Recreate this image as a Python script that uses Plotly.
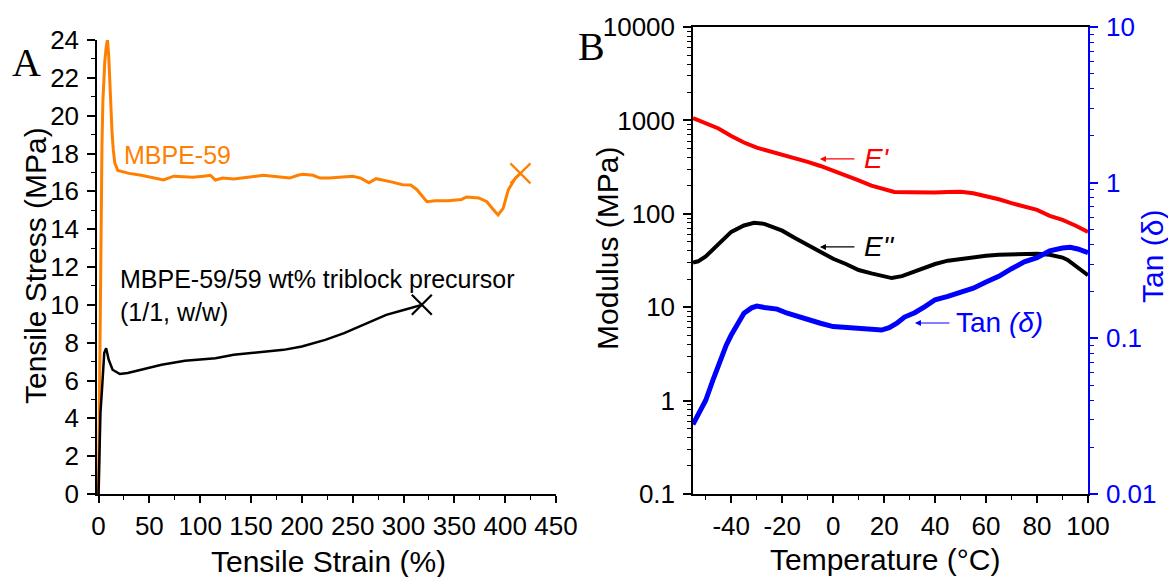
import plotly.graph_objects as go

# ---------------- Panel A data: tensile test ----------------
strain_mbpe = [0, 0.8, 1.6, 2.5, 3.4, 4.3, 5.3, 6.2, 7.5, 8.8, 10, 11, 12.2, 13.3, 14.5, 16, 19, 22,
               30, 42, 55, 64, 74, 85, 93, 103, 110, 115, 122, 133, 145, 155, 162, 172, 180, 188,
               196, 201, 211, 218, 227, 240, 250, 258, 266, 273, 280, 288, 299, 307, 313, 318,
               323, 331, 344, 357, 362, 374, 382, 388, 393, 398, 403, 410, 415]
stress_mbpe = [0, 5, 10.2, 15.5, 18.5, 20.8, 22, 22.9, 23.6, 24, 23.2, 21.7, 20.2, 19.1, 18.2, 17.5, 17.1, 17.05,
               16.95, 16.85, 16.7, 16.6, 16.8, 16.75, 16.75, 16.8, 16.85, 16.6, 16.7, 16.65, 16.75, 16.8, 16.85, 16.8, 16.75, 16.7,
               16.85, 16.9, 16.85, 16.7, 16.7, 16.75, 16.8, 16.7, 16.45, 16.67, 16.6, 16.5, 16.35, 16.33, 16.1, 15.8,
               15.45, 15.5, 15.5, 15.57, 15.7, 15.65, 15.45, 15.05, 14.75, 15.1, 16.07, 16.7, 16.95]

strain_blend = [0, 1.9, 3.4, 5.6, 7.5, 10, 13.8, 21, 28.7, 47, 62, 85, 100, 115, 133, 152, 167, 182,
                200, 223, 241.6, 264, 283, 301, 318]
stress_blend = [0, 4.3, 5.5, 7.45, 7.7, 7.1, 6.57, 6.34, 6.4, 6.65, 6.83, 7.04, 7.1, 7.18, 7.36, 7.45, 7.53, 7.62,
                7.8, 8.15, 8.5, 9.03, 9.47, 9.74, 10.0]

# ---------------- Panel B data: DMA ----------------
temp_e1 = [-55, -50, -45, -40, -35, -30, -25, -20, -15, -10, -5, 0, 5, 10, 15, 20, 24, 30, 35, 40,
           45, 50, 55, 60, 65, 70, 75, 80, 85, 90, 95, 100]
storage_mod = [1060, 930, 820, 680, 580, 510, 470, 435, 400, 360, 325, 290, 258, 228, 200, 185, 171, 170, 168, 169,
               171, 172, 166, 155, 143, 130, 120, 110, 95, 86, 75, 64]

temp_e2 = [-55, -53, -50, -45, -40, -35, -31, -27, -20, -15, -10, -5, 0, 5, 10, 15, 20, 23, 27, 30, 35, 40,
           45, 50, 55, 60, 65, 70, 75, 80, 85, 90, 92, 95, 97, 100]
loss_mod = [30, 31, 35, 48, 64, 75, 80, 78, 66, 55, 46, 39, 33, 29, 25, 23, 21.5, 20.5, 21.5, 23, 26, 29,
            31.5, 33, 34.5, 35.5, 36.5, 37, 37.2, 37.3, 36.5, 34, 32, 28, 25, 22]

temp_tan = [-55, -52, -50, -47, -45, -42, -40, -37, -35, -32, -30, -27, -22, -18, -14, -10, -5, 0, 5, 10, 15,
            19, 22, 25, 28, 32, 36, 40, 45, 50, 55, 60, 65, 70, 75, 80, 85, 90, 93, 96, 100]
tan_delta = [0.028, 0.034, 0.040, 0.055, 0.068, 0.09, 0.105, 0.13, 0.145, 0.157, 0.161, 0.158, 0.154, 0.145,
             0.138, 0.131, 0.125, 0.119, 0.117, 0.117, 0.115, 0.113, 0.117, 0.125, 0.137, 0.146, 0.16, 0.177,
             0.186, 0.197, 0.21, 0.23, 0.25, 0.28, 0.31, 0.33, 0.365, 0.38, 0.385, 0.375, 0.355]

temp_ticks = [-40, -20, 0, 20, 40, 60, 80, 100]
temp_ticktext = ["-40", "-20", "0", "20", "40", "60", "80", "100"]
mod_ticks = [0.1, 1, 10, 100, 1000, 10000]
mod_ticktext = ["0.1", "1", "10", "100", "1000", "10000"]
tan_ticks = [0.01, 0.1, 1, 10]
tan_ticktext = ["0.01", "0.1", "1", "10"]

ORANGE = "#FF7F00"
RED = "#FF0000"
BLUE = "#0000FF"
FONT = "Liberation Sans, Arial, sans-serif"
SERIF = "Liberation Serif, Times New Roman, serif"
TICKF = dict(family=FONT, size=26, color="black")
TITLE_SIZE = 30

fig = go.Figure()

fig.add_trace(go.Scatter(x=strain_mbpe, y=stress_mbpe, mode="lines",
                         line=dict(color=ORANGE, width=3), xaxis="x", yaxis="y", showlegend=False))
fig.add_trace(go.Scatter(x=strain_blend, y=stress_blend, mode="lines",
                         line=dict(color="black", width=2.5), xaxis="x", yaxis="y", showlegend=False))
fig.add_trace(go.Scatter(x=[strain_mbpe[-1]], y=[stress_mbpe[-1]], mode="markers",
                         marker=dict(symbol="x-thin", size=20, line=dict(color=ORANGE, width=2.2)),
                         xaxis="x", yaxis="y", showlegend=False))
fig.add_trace(go.Scatter(x=[strain_blend[-1]], y=[stress_blend[-1]], mode="markers",
                         marker=dict(symbol="x-thin", size=20, line=dict(color="black", width=2.2)),
                         xaxis="x", yaxis="y", showlegend=False))

fig.add_trace(go.Scatter(x=temp_e1, y=storage_mod, mode="lines", line=dict(color=RED, width=4),
                         xaxis="x2", yaxis="y2", showlegend=False))
fig.add_trace(go.Scatter(x=temp_e2, y=loss_mod, mode="lines", line=dict(color="black", width=4),
                         xaxis="x2", yaxis="y2", showlegend=False))
fig.add_trace(go.Scatter(x=temp_tan, y=tan_delta, mode="lines", line=dict(color=BLUE, width=5),
                         xaxis="x2", yaxis="y3", showlegend=False))

common = dict(showgrid=False, zeroline=False, showline=True, linecolor="black", linewidth=1.5,
              ticks="outside", ticklen=8, tickwidth=1.5, tickcolor="black", tickfont=TICKF,
              ticklabelstandoff=3, automargin=False)
xcommon = dict(common)
xcommon.update(ticklen=7, ticklabelstandoff=1)

fig.update_layout(
    width=1168, height=577,
    margin=dict(l=0, r=0, t=0, b=0),
    paper_bgcolor="white", plot_bgcolor="white",
    xaxis=dict(domain=[97 / 1168, 556 / 1168], range=[-1.5, 450], tick0=0, dtick=50,
               minor=dict(ticks="outside", ticklen=4, tickwidth=1.2, tickcolor="black", dtick=25, tick0=0),
               anchor="y", **xcommon),
    yaxis=dict(domain=[83 / 577, 537 / 577], range=[0, 24], tick0=0, dtick=2,
               minor=dict(ticks="outside", ticklen=4, tickwidth=1.2, tickcolor="black", dtick=1, tick0=0),
               anchor="x", **common),
    xaxis2=dict(domain=[693 / 1168, 1088 / 1168], range=[-55, 100], tickvals=temp_ticks, ticktext=temp_ticktext,
                minor=dict(ticks="outside", ticklen=4, tickwidth=1.2, tickcolor="black", dtick=10, tick0=-50),
                mirror=True, anchor="y2", **xcommon),
    yaxis2=dict(domain=[83 / 577, 550 / 577], type="log", range=[-1, 4], tickvals=mod_ticks,
                ticktext=mod_ticktext, anchor="x2",
                minor=dict(ticks="outside", ticklen=4, tickwidth=1.2, tickcolor="black", dtick="D1"),
                **common),
)

right_axis = dict(common)
right_axis.update(linecolor=BLUE, tickcolor=BLUE, tickfont=dict(family=FONT, size=26, color=BLUE))
fig.update_layout(
    yaxis3=dict(domain=[83 / 577, 550 / 577], type="log", range=[-2, 1], tickvals=tan_ticks,
                ticktext=tan_ticktext, overlaying="y2", anchor="x2", side="right",
                minor=dict(ticks="outside", ticklen=4, tickwidth=1.2, tickcolor=BLUE, dtick="D1"),
                **right_axis)
)


def paper(px, py):
    return px / 1168, 1 - py / 577


annos = []
# Panel letters
for letter, (px, py) in (("A", (26, 63)), ("B", (591, 47))):
    x, y = paper(px, py)
    annos.append(dict(text=letter, xref="paper", yref="paper", x=x, y=y, showarrow=False,
                      font=dict(family=SERIF, size=40, color="black"), xanchor="center", yanchor="middle"))
# Axis titles
for text, (px, py), angle, color in (
        ("Tensile Strain (%)", (328, 561), 0, "black"),
        ("Tensile Stress (MPa)", (35, 266), -90, "black"),
        ("Temperature (°C)", (885, 559), 0, "black"),
        ("Modulus (MPa)", (607, 249), -90, "black"),
        ("Tan (δ)", (1152, 257), -90, BLUE)):
    x, y = paper(px, py)
    annos.append(dict(text=text, xref="paper", yref="paper", x=x, y=y, showarrow=False, textangle=angle,
                      xanchor="center", yanchor="middle",
                      font=dict(family=FONT, size=TITLE_SIZE, color=color)))

annos += [
    dict(text="MBPE-59", xref="x", yref="y", x=23, y=17.9, showarrow=False, xanchor="left", yanchor="middle",
         font=dict(family=FONT, size=25, color=ORANGE)),
    dict(text="MBPE-59/59 wt% triblock precursor<br>(1/1, w/w)", xref="x", yref="y", x=19.5, y=10.5,
         showarrow=False, xanchor="left", yanchor="middle", align="left",
         font=dict(family=FONT, size=25, color="black")),
    # Panel B arrows + labels (log axes use log10 positions)
    dict(text="", xref="x2", yref="y2", x=-5.2, y=2.587, showarrow=True, ax=36, ay=0,
         arrowhead=2, arrowsize=1, arrowwidth=1.2, arrowcolor=RED),
    dict(text="<i>E'</i>", xref="x2", yref="y2", x=11.5, y=2.587, showarrow=False, xanchor="left",
         yanchor="middle", font=dict(family=FONT, size=28, color=RED)),
    dict(text="", xref="x2", yref="y2", x=-5.2, y=1.645, showarrow=True, ax=36, ay=0,
         arrowhead=2, arrowsize=1, arrowwidth=1.2, arrowcolor="black"),
    dict(text="<i>E''</i>", xref="x2", yref="y2", x=11.5, y=1.645, showarrow=False, xanchor="left",
         yanchor="middle", font=dict(family=FONT, size=28, color="black")),
    dict(text="", xref="x2", yref="y2", x=32.1, y=0.831, showarrow=True, ax=36, ay=0,
         arrowhead=2, arrowsize=1, arrowwidth=1.2, arrowcolor=BLUE),
    dict(text="Tan <i>(δ)</i>", xref="x2", yref="y2", x=47.5, y=0.831, showarrow=False, xanchor="left",
         yanchor="middle", font=dict(family=FONT, size=28, color=BLUE)),
]
fig.update_layout(annotations=annos)

fig.write_html("out.html")
